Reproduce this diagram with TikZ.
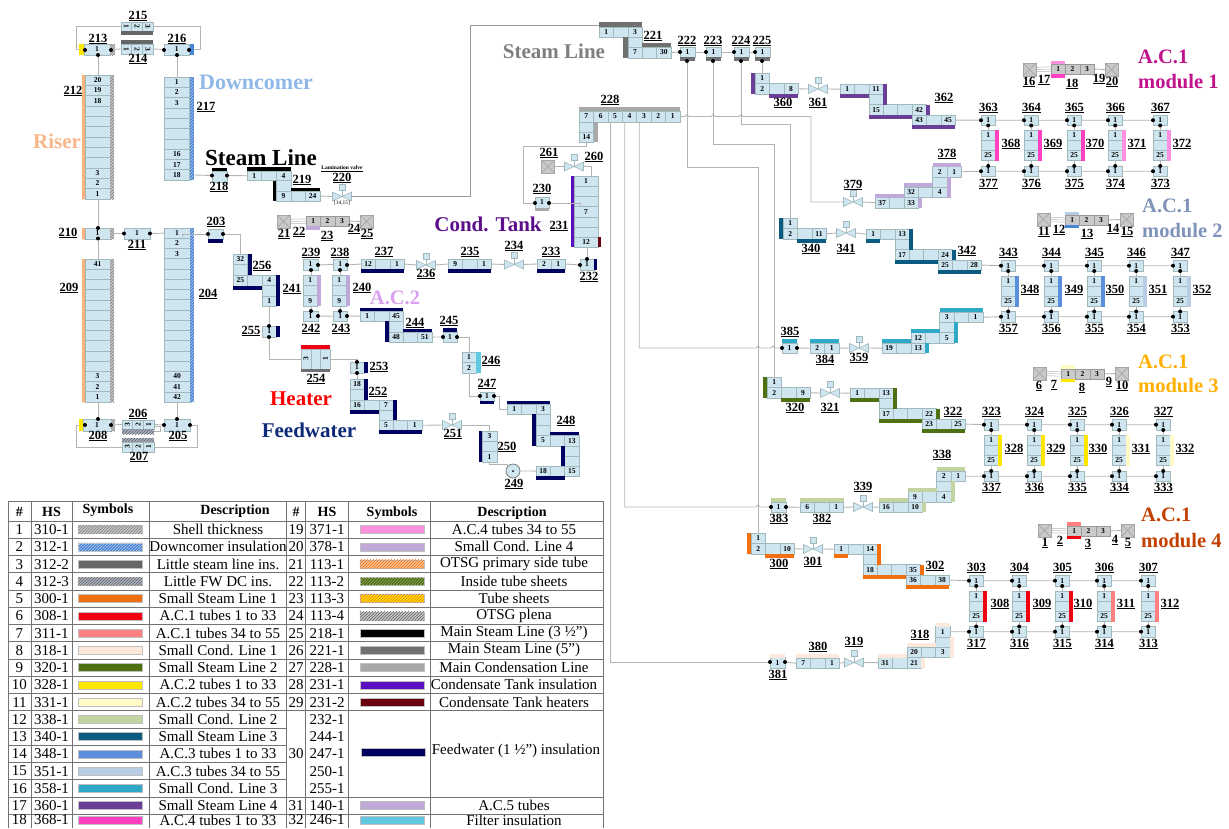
\documentclass[tikz,border=0pt]{standalone}
\usepackage{fontspec}
\setmainfont{Liberation Serif}
\usetikzlibrary{patterns,calc}
\pgfdeclarelayer{bg}
\pgfsetlayers{bg,main}
\definecolor{ccell}{HTML}{CFE6F0}
\definecolor{cedge}{HTML}{9FB9BC}
\definecolor{cgr}{HTML}{C9C9C9}
\definecolor{cline}{HTML}{B4B4B4}
\definecolor{cshell}{HTML}{C4C4C4}
\definecolor{cdc}{HTML}{4A86D8}
\definecolor{clsl}{HTML}{666666}
\definecolor{cfw}{HTML}{A8B0C0}
\definecolor{csl1}{HTML}{F07010}
\definecolor{cred}{HTML}{F00010}
\definecolor{csal}{HTML}{FF8080}
\definecolor{ccl1}{HTML}{FDE9DC}
\definecolor{csl2}{HTML}{4F7010}
\definecolor{cyel}{HTML}{FFE600}
\definecolor{cyell}{HTML}{FFFAC8}
\definecolor{ccl2}{HTML}{C4D4A0}
\definecolor{csl3}{HTML}{0B5A80}
\definecolor{cblue}{HTML}{5B8FDC}
\definecolor{cbluel}{HTML}{B8CCE4}
\definecolor{ccl3}{HTML}{30A8C8}
\definecolor{csl4}{HTML}{6B3E98}
\definecolor{cpink}{HTML}{FF40C0}
\definecolor{cpinkl}{HTML}{FF90E0}
\definecolor{ccl4}{HTML}{C0A8D8}
\definecolor{cotsg}{HTML}{FFC090}
\definecolor{cmsl}{HTML}{707070}
\definecolor{cmcl}{HTML}{A8A8A8}
\definecolor{ctank}{HTML}{5A10C0}
\definecolor{cheat}{HTML}{6A0010}
\definecolor{cnavy}{HTML}{000060}
\definecolor{cfilt}{HTML}{60C8E0}
\definecolor{ttriser}{HTML}{F9B68A}
\definecolor{ttdc}{HTML}{8DB8E8}
\definecolor{ttgray}{HTML}{7F7F7F}
\definecolor{ttcond}{HTML}{5B0F8B}
\definecolor{ttac2}{HTML}{D9A0F0}
\definecolor{ttfw}{HTML}{0E2A78}
\definecolor{ttm1}{HTML}{C0128C}
\definecolor{ttm2}{HTML}{7F93B8}
\definecolor{ttm3}{HTML}{FFB000}
\definecolor{ttm4}{HTML}{C24100}
\newcommand{\cf}{\fontsize{7.5}{8}\selectfont\bfseries}
\tikzset{
 cel/.style={draw=cedge,fill=ccell,line width=.6pt,inner sep=0pt,outer sep=0pt,anchor=north west,font=\cf},
 gcel/.style={cel,fill=cgr,draw=gray!80},
 dotb/.style={circle,fill=black,inner sep=0pt,minimum size=4pt,outer sep=0pt},
 conn/.style={draw=cline,line width=.9pt},
 lb/.style={inner sep=0pt,font=\fontsize{12.5}{13}\selectfont\bfseries},
 tbl/.style={inner sep=0pt,font=\fontsize{15}{15}\selectfont},
 tblh/.style={inner sep=0pt,font=\fontsize{14}{15}\selectfont\bfseries},
 tline/.style={draw=gray!90!black,line width=.8pt},
 vbody/.style={minimum width=19pt,minimum height=9pt,inner sep=0pt,outer sep=0pt},
 stem/.style={draw=cedge,fill=ccell,line width=.6pt,minimum size=6pt,inner sep=0pt},
 xb/.style={draw=gray!70,fill=cgr,line width=.6pt,minimum size=13pt,inner sep=0pt,anchor=north west,outer sep=0pt},
}
\newcommand{\cel}[6]{\node[cel,minimum width=#4pt,minimum height=#5pt] (#1) at (#2,#3) {#6};}
\newcommand{\hrow}[7][cel]{\foreach \tx [count=\ci from 0] in {#7}{\pgfmathsetmacro{\xx}{#3+\ci*#5}\pgfmathtruncatemacro{\ii}{\ci+1}\node[#1,minimum width=#5pt,minimum height=#6pt] (#2\ii) at (\xx,#4) {\tx};}}
\newcommand{\vrow}[6]{\foreach \tx [count=\ci from 0] in {#6}{\pgfmathsetmacro{\yy}{#3+\ci*#5}\pgfmathtruncatemacro{\ii}{\ci+1}\node[cel,minimum width=#4pt,minimum height=#5pt] (#1\ii) at (#2,\yy) {\tx};}}
\newcommand{\lbl}[3]{\node[lb] (L#3) at (#1,#2) {\underline{#3}};}
\newcommand{\ttl}[5]{\node[inner sep=0pt,text=#4,font=\fontsize{#3}{#3}\selectfont\bfseries] (#1) at #2 {#5};}
\newcommand{\dotn}[3]{\node[dotb] (#1) at (#2,#3) {};}
\newcommand{\barr}[5]{\fill[#5] (#1,#2) rectangle (#3,#4);}
\newcommand{\hbarr}[6]{\fill[#5] (#1,#2) rectangle (#3,#4);\fill[pattern=north east lines,pattern color=#6] (#1,#2) rectangle (#3,#4);}
\newcommand{\valve}[3]{\node[vbody] (#1) at (#2,#3) {};
 \filldraw[draw=cedge,fill=ccell,line width=.6pt] (#1.north west) -- (#1.center) -- (#1.south west) -- cycle;
 \filldraw[draw=cedge,fill=ccell,line width=.6pt] (#1.north east) -- (#1.center) -- (#1.south east) -- cycle;
 \node[stem] (#1s) at (#2,#3-9) {};
 \draw[cedge,line width=.6pt] (#1s) -- (#1.center);}
\newcommand{\xbox}[3]{\node[xb] (#1) at (#2,#3) {};
 \draw[gray!75,line width=.5pt] (#1.north west) -- (#1.south east) (#1.north east) -- (#1.south west);}
\newcommand{\rl}[1]{\rotatebox{90}{#1}}
\newcommand{\rr}[1]{\rotatebox{-90}{#1}}
\newcommand{\strip}[6]{\xbox{#1a}{#2}{#3}\hrow[gcel]{#1c}{#4}{#5}{14.4}{10}{1,2,3}\xbox{#1b}{#6}{#3}
 \begin{pgfonlayer}{bg}\foreach \dy in {-2.2,0,2.2}{\draw[draw=cline,line width=.5pt] ([yshift=\dy pt]#1a.east) -- ([yshift=\dy pt]#1c1.west);}\draw[conn] (#1c3.east) -- (#1b.west);\end{pgfonlayer}}
% stair going down-right
\newcommand{\stairA}[8]{\def\cw{14.4}\def\ch{10.3}
 \hrow{#1a}{#2}{#3}{\cw}{\ch}{#6}
 \cel{#1b}{#2+2*\cw}{#3+\ch}{\cw}{\ch}{}
 \hrow{#1c}{#2+2*\cw}{#3+2*\ch}{\cw}{\ch}{#7}
 \hrow{#1d}{#2+5*\cw}{#3+3*\ch}{\cw}{\ch}{#8}
 \barr{#2}{#3+\ch}{#2+#5}{#3+\ch+4}{#4}
 \barr{#2+3*\cw}{#3}{#2+3*\cw+4}{#3+2*\ch}{#4}
 \barr{#2+2*\cw}{#3+3*\ch}{#2+5*\cw}{#3+3*\ch+4}{#4}
 \barr{#2+6*\cw}{#3+2*\ch}{#2+6*\cw+4}{#3+3*\ch}{#4}
 \barr{#2+5*\cw}{#3+4*\ch}{#2+8*\cw}{#3+4*\ch+4}{#4}}
% stair going up-right
\newcommand{\stairB}[8]{\def\cw{14.4}\def\ch{10.3}
 \hrow{#1a}{#2}{#3}{\cw}{\ch}{#6}
 \hrow{#1b}{#2+2*\cw}{#3-\ch}{\cw}{\ch}{#7}
 \cel{#1c}{#2+4*\cw}{#3-2*\ch}{\cw}{\ch}{}
 \hrow{#1d}{#2+4*\cw}{#3-3*\ch}{\cw}{\ch}{#8}
 \barr{#2}{#3-4}{#2+2*\cw}{#3}{#4}
 \barr{#2+3*\cw}{#3}{#2+3*\cw+4}{#3+\ch}{#4}
 \barr{#2+2*\cw}{#3-\ch-4}{#2+4*\cw}{#3-\ch}{#4}
 \barr{#2+5*\cw}{#3-2*\ch}{#2+5*\cw+4}{#3}{#4}
 \barr{#2+4*\cw}{#3-3*\ch-4}{#2+4*\cw+#5*\cw}{#3-3*\ch}{#4}}
% inlet
\newcommand{\lineA}[5]{\def\cw{14.4}
 \cel{#1a}{#2}{#3}{\cw}{10.5}{1}
 \hrow{#1b}{#2}{#3+10.5}{\cw}{10.5}{2,{},#5}
 \barr{#2-4}{#3}{#2}{#3+21}{#4}
 \barr{#2+\cw}{#3+21}{#2+3*\cw}{#3+25}{#4}}
\newcommand{\acmod}[7]{\foreach \ta/\tb/\tc/\xc/\cb/\lx in {#7}{
 \cel{n\ta}{\xc}{#1}{14.5}{10.5}{1}
 \dotn{d\ta l}{\xc}{#1+5.2}
 \dotn{d\ta b}{\xc+7.2}{#1+10.5}
 \vrow{n\tb-}{\xc}{#2}{14.3}{10.2}{1,{},25}
 \barr{\xc+14.3}{#2}{\xc+18}{#2+30.6}{\cb}
 \cel{n\tc}{\xc}{#3}{14.5}{10.5}{1}
 \dotn{d\tc l}{\xc}{#3+5.2}
 \dotn{d\tc t}{\xc+7.2}{#3}
 \lbl{\xc+7.5}{#4}{\ta}
 \lbl{\lx}{#5}{\tb}
 \lbl{\xc+7.5}{#6}{\tc}
 \begin{pgfonlayer}{bg}\draw[conn] (d\ta b) -- (d\ta b |- n\tb-1.north);\draw[conn] (n\tb-3.south -| d\tc t) -- (d\tc t);\end{pgfonlayer}}}
\newcommand{\rowlink}[1]{\begin{pgfonlayer}{bg}\foreach \a/\b in {#1}{\draw[conn] (n\a.east) -- (d\b l);}\end{pgfonlayer}}
\begin{document}
\begin{tikzpicture}[x=1pt,y=-1pt]
\useasboundingbox (0,0) rectangle (1229,828);
% ---- primary side left
\vrow{n212-}{85}{75}{25}{10.33}{20,19,18,{},{},{},{},{},{},3,2,1}
\hbarr{82}{75}{85}{199}{cotsg}{csl1!70}
\hbarr{110}{75}{114}{199}{cshell}{gray}
\lbl{73}{91}{212}
\cel{n213}{84}{44}{26}{11}{1}
\barr{79}{44}{84}{55}{cyel}
\hbarr{110}{44}{115}{55}{cshell}{gray}
\dotn{d213l}{85}{50}\dotn{d213r}{111}{50}\dotn{d213b}{98}{55}
\lbl{98}{39}{213}
\hrow{n215-}{121}{22}{10.7}{9}{\rr{1},\rr{2},\rr{3}}
\barr{121}{31}{153}{35}{clsl}
\lbl{138}{16}{215}
\barr{121}{40}{153}{44}{clsl}
\hrow{n214-}{121}{44}{10.7}{10}{\rr{1},\rr{2},\rr{3}}
\lbl{138}{59}{214}
\cel{n216}{164}{44}{25.5}{11}{1}
\barr{189.5}{44}{194}{55}{cdc}
\dotn{d216l}{164}{50}\dotn{d216r}{189}{50}\dotn{d216b}{177}{55}
\lbl{177}{39}{216}
\vrow{n217-}{164}{77}{25.5}{10.3}{1,2,3,{},{},{},{},16,17,18}
\hbarr{189.5}{77}{193.5}{180}{cdc}{cbluel}
\lbl{206}{107}{217}
\ttl{tdc}{(256,82)}{22}{ttdc}{Downcomer}
\ttl{trs}{(57,141)}{21}{ttriser}{Riser}
\ttl{tsl}{(261,158)}{23}{black}{Steam Line}
\cel{n218}{212}{171}{15}{11}{}
\barr{212}{167.5}{227}{171}{black}
\dotn{d218l}{212}{175.5}\dotn{d218r}{227}{175.5}
\lbl{219}{187}{218}
\hrow{n219a}{247}{171}{14.6}{9.5}{1,{},4}
\cel{n219b}{276.2}{180.5}{14.6}{10.5}{}
\hrow{n219c}{276.2}{191}{14.6}{10}{9,{},24}
\barr{247}{167}{291}{171}{black}
\barr{273}{180.5}{276.2}{201}{black}
\barr{291}{188}{319.8}{191}{black}
\lbl{302}{180}{219}
\valve{v220}{342}{196.5}
\node[inner sep=0pt,font=\fontsize{5.5}{6}\selectfont\bfseries] (lamv) at (342,169) {\underline{Lamination valve}};
\lbl{342}{178}{220}
\node[inner sep=0pt,font=\fontsize{5.5}{6}\selectfont] (t1415) at (342,203.5) {[14,15]};
% 210 / 211 / 209
\cel{n210}{85}{228}{25}{11}{1}
\hbarr{82}{228}{85}{239}{cotsg}{csl1!70}
\hbarr{110}{228}{114}{239}{cshell}{gray}
\dotn{d210t}{98}{228}\dotn{d210b}{98}{238.5}
\lbl{68}{233}{210}
\cel{n211}{124}{228}{26}{11}{1}
\dotn{d211l}{124}{233.5}\dotn{d211r}{150}{233.5}
\lbl{137}{245}{211}
\vrow{n209-}{85}{259}{25}{10.21}{41,{},{},{},{},{},{},{},{},{},{},3,2,1}
\hbarr{82}{259}{85}{402}{cotsg}{csl1!70}
\hbarr{110}{259}{114}{402}{cshell}{gray}
\lbl{69}{288}{209}
\vrow{n204-}{164}{228}{26}{10.24}{1,2,3,{},{},{},{},{},{},{},{},{},{},{},40,41,42}
\hbarr{190}{228}{194}{402}{cdc}{cbluel}
\lbl{208}{294}{204}
\cel{n208}{83}{419}{28}{12}{1}
\barr{79}{419}{83}{431}{cyel}
\hbarr{111}{419}{114.5}{431}{cshell}{gray}
\dotn{d208l}{85}{425}\dotn{d208r}{111}{425}\dotn{d208t}{98}{419}
\lbl{98}{436}{208}
\hrow{n206-}{122}{420}{10.7}{9}{\rl{3},\rl{2},\rl{1}}
\hbarr{122}{429}{154}{434}{cfw}{clsl}
\lbl{138}{414}{206}
\hbarr{122}{438}{154}{442}{cfw}{clsl}
\hrow{n207-}{122}{442}{10.7}{10}{\rl{3},\rl{2},\rl{1}}
\lbl{139}{457}{207}
\cel{n205}{164}{419}{26}{12}{1}
\dotn{d205l}{164}{425}\dotn{d205r}{190}{425}\dotn{d205t}{177}{419}
\lbl{178}{436}{205}
\cel{n203}{208}{229}{15}{10}{}
\barr{208}{239}{223}{243}{cnavy}
\dotn{d203l}{208}{234}\dotn{d203r}{223}{234}
\lbl{216}{222}{203}
\coordinate (k204) at (182,237);
% 21-25
\strip{s23}{277}{215}{306}{216}{360}
\barr{306}{226}{320.4}{230}{ccl4}
\lbl{284}{234}{21}\lbl{299}{232}{22}\lbl{327}{236}{23}\lbl{354}{229}{24}\lbl{367}{234}{25}
% 256, 241
\vrow{n256a}{233}{254}{14.5}{10.5}{32,{}}
\hrow{n256b}{233}{275}{14.5}{11}{25,{}}
\vrow{n241-}{262}{275}{14.3}{10.4}{4,{},1}
\barr{248}{254}{251.5}{275}{cnavy}
\barr{233}{286}{262}{289.5}{cnavy}
\barr{276.3}{275}{279.5}{306}{cnavy}
\lbl{262}{266}{256}\lbl{292}{289}{241}
\cel{n255}{262}{326}{14.3}{11}{1}
\barr{276.3}{326}{279.5}{337}{cnavy}
\dotn{d255t}{269}{326}\dotn{d255b}{269}{337}
\lbl{251}{331}{255}
\hrow{n254-}{301}{349}{9.8}{20}{\rl{3},{},\rl{1}}
\barr{301}{345}{330.4}{349}{cred}
\barr{301}{369}{330.4}{372}{cmsl}
\lbl{316}{379}{254}
\ttl{theat}{(301,399)}{21}{red}{Heater}
\ttl{tfw}{(309,430)}{21}{ttfw}{Feedwater}
\ttl{tac2}{(395,298)}{20.5}{ttac2}{A.C.2}
\ttl{tcond}{(488,224)}{21}{ttcond}{Cond. Tank}
% 238-243
\cel{n239}{303}{259}{15}{11}{1}
\dotn{d239r}{318}{265}\dotn{d239b}{311}{270}
\lbl{311}{253}{239}
\cel{n238}{333}{259}{14.5}{11}{1}
\dotn{d238r}{347}{265}\dotn{d238b}{340}{270}
\lbl{340}{253}{238}
\vrow{t239-}{303}{275}{14.3}{10.3}{1,{},9}
\barr{317.3}{275}{321}{306}{ccl4}
\vrow{t238-}{332}{275}{14.3}{10.3}{1,{},9}
\barr{346.3}{275}{350}{306}{ccl4}
\lbl{362}{288}{240}
\cel{n242}{303}{311}{15}{10.5}{1}
\dotn{d242r}{318}{316}\dotn{d242t}{311}{311}
\lbl{311}{329}{242}
\cel{n243}{333}{311}{14.5}{10.5}{1}
\dotn{d243r}{347}{316}\dotn{d243t}{340}{311}
\lbl{341}{329}{243}
\hrow{n237-}{361}{259}{14.4}{10}{12,{},1}
\barr{361}{269}{404}{273}{cnavy}
\lbl{384}{252}{237}
\valve{v236}{426}{265}
\lbl{426}{274}{236}
\hrow{n235-}{448}{259}{14.4}{10}{9,{},1}
\barr{448}{269}{491}{273}{cnavy}
\lbl{470}{252}{235}
\valve{v234}{514}{264.5}
\lbl{514}{246}{234}
\hrow{n233-}{537}{259}{14.2}{10}{2,1}
\barr{537}{269}{565.4}{273}{cnavy}
\lbl{551}{252}{233}
\cel{n232}{580}{259}{14}{11}{1}
\barr{594}{259}{597}{270}{cnavy}
\dotn{d232l}{580}{265}\dotn{d232t}{587}{259}
\lbl{589}{277}{232}
% 244-253
\hrow{n244a}{360}{311}{14.4}{10.3}{1,{},45}
\cel{n244b}{388.8}{321.3}{14.4}{10.5}{}
\hrow{n244c}{388.8}{331.8}{14.4}{10.5}{48,{},51}
\barr{360}{308}{403.2}{311}{cnavy}
\barr{385}{321.3}{388.8}{342.3}{cnavy}
\barr{403.2}{329}{432}{331.8}{cnavy}
\lbl{415}{323}{244}
\cel{n245}{443}{332}{14}{10.5}{1}
\barr{443}{328}{457}{332}{cnavy}
\dotn{d245l}{443}{337}\dotn{d245r}{457}{337}
\lbl{449}{321}{245}
\vrow{n246-}{462}{352}{14}{10.5}{1,2}
\barr{476}{352}{481}{373}{cfilt}
\lbl{491}{361}{246}
\cel{n247}{480}{392}{14}{9}{1}
\barr{480}{401}{494}{404}{cnavy}
\dotn{d247l}{480}{396}\dotn{d247r}{494}{396}
\lbl{487}{384}{247}
\hrow{n248a}{507}{404}{14.4}{10.3}{1,{},3}
\vrow{n248b}{535.8}{414.3}{14.4}{10.5}{{},{}}
\hrow{n248c}{535.8}{435.3}{14.4}{10.5}{5,{},13}
\vrow{n248d}{564.6}{445.8}{14.4}{10}{{},{}}
\hrow{n248e}{535.8}{465.8}{14.4}{10.5}{18,{},15}
\barr{507}{401}{550.2}{404}{cnavy}
\barr{532}{414.3}{535.8}{445.8}{cnavy}
\barr{550.2}{432}{579}{435.3}{cnavy}
\barr{561}{445.8}{564.6}{465.8}{cnavy}
\barr{535.8}{476.3}{564.6}{479.5}{cnavy}
\lbl{566}{421}{248}
\node[circle,draw=gray!90!black,fill=ccell,line width=.7pt,minimum size=14pt,inner sep=0pt] (p249) at (513,471) {};
\node[dotb,minimum size=2pt] (p249c) at (513,471) {};
\lbl{514}{484}{249}
\vrow{n250-}{482}{431}{15}{10.33}{3,{},1}
\barr{479}{431}{482}{462}{cnavy}
\lbl{507}{447}{250}
\valve{v251}{452}{425}
\lbl{453}{434}{251}
\cel{n252a}{350}{379}{14.3}{10.5}{18}
\cel{n252b}{350}{389.5}{14.3}{10.5}{}
\hrow{n252c}{350}{400}{14.4}{10.3}{16,{},7}
\cel{n252d}{378.8}{410.3}{14.4}{10}{}
\hrow{n252e}{378.8}{420.3}{14.4}{10}{5,{},1}
\barr{364.3}{379}{368}{400}{cnavy}
\barr{350}{410.3}{378.8}{413.5}{cnavy}
\barr{393.2}{400}{396.5}{420.3}{cnavy}
\barr{378.8}{430.3}{422}{433.5}{cnavy}
\lbl{378}{392}{252}
\cel{n253}{350}{362}{14}{11}{1}
\barr{364}{362}{368}{373}{cnavy}
\dotn{d253t}{357}{362}\dotn{d253b}{357}{373}
\lbl{379}{367}{253}
% 221 ... 225
\hrow{n221a}{599}{27}{14.4}{10}{1,{},3}
\cel{n221b}{627.8}{37}{14.4}{10}{}
\hrow{n221c}{627.8}{47}{14.4}{11}{7,{},30}
\barr{599}{22}{642.2}{27}{cmsl}
\barr{623}{37}{627.8}{58}{cmsl}
\barr{642.2}{43}{671}{47}{cmsl}
\lbl{653}{36}{221}
\coordinate (k221) at (599,25);
\ttl{tsl2}{(554,51)}{21}{ttgray}{Steam Line}
\foreach \nm/\xc in {222/680,223/706,224/734,225/755}{
 \cel{n\nm}{\xc}{47}{15}{10}{1}
 \barr{\xc}{57}{\xc+15}{61}{cmsl}
 \dotn{d\nm l}{\xc}{52}\dotn{d\nm b}{\xc+7}{61}
 \lbl{\xc+7}{41}{\nm}}
\hrow{n228-}{579}{111}{14.43}{11}{7,6,5,4,3,2,1}
\vrow{n228v}{579}{122}{14.6}{10}{{},14}
\barr{579}{107}{680}{111}{cmcl}
\barr{593.6}{122}{598}{142}{cmcl}
\lbl{610}{100}{228}
\xbox{x261}{541.5}{160}
\lbl{549}{153}{261}
\valve{v260}{574}{166.5}
\lbl{594}{157}{260}
\cel{n230}{535}{197}{14}{11}{1}
\barr{535}{208}{549}{211}{cmcl}
\dotn{d230l}{535}{203}\dotn{d230r}{549}{203}
\lbl{542}{189}{230}
\vrow{n231-}{574}{176}{24}{10.2}{1,{},{},7,{},{},12}
\barr{571}{176}{574}{247.4}{ctank}
\barr{598}{237}{601}{247.4}{cheat}
\lbl{559}{226}{231}
% module 1
\strip{s18}{1023}{63}{1051}{64}{1105}
\barr{1051}{61}{1065.4}{64}{cpinkl}\barr{1051}{74}{1065.4}{78}{cpink}
\lbl{1029}{82}{16}\lbl{1044}{80}{17}\lbl{1072}{84}{18}\lbl{1099}{79}{19}\lbl{1112}{82}{20}
\node[anchor=west,inner sep=0pt,text=ttm1,font=\fontsize{20.5}{21}\selectfont\bfseries] (m1a) at (1138,57) {A.C.1};
\node[anchor=west,inner sep=0pt,text=ttm1,font=\fontsize{20.5}{21}\selectfont\bfseries] (m1b) at (1138,82) {module 1};
\lineA{n360}{755}{73}{csl4}{8}
\lbl{783}{103}{360}
\valve{v361}{818}{89}
\lbl{818}{103}{361}
\stairA{n362}{840}{84}{csl4}{28.8}{1,{},11}{15,{},{},42}{43,{},45}
\lbl{944}{98}{362}
\stairB{n378}{875}{197.5}{ccl4}{2}{37,{},33}{32,{},4}{2,1}
\lbl{947}{154}{378}
\valve{v379}{853}{202}
\lbl{853}{185}{379}
\acmod{115}{130}{166}{108}{144}{184}{363/368/377/981/cpink/1011,364/369/376/1024/cpink/1053,365/370/375/1067/cpink/1095,366/371/374/1108/cpinkl/1137,367/372/373/1153/cpinkl/1182}
\rowlink{363/364,364/365,365/366,366/367,377/376,376/375,375/374,374/373}
% module 2
\strip{s13}{1037}{213}{1065}{215}{1120}
\barr{1065}{212}{1079.4}{215}{cbluel}\barr{1065}{225}{1079.4}{227.5}{cdc}
\lbl{1044}{232}{11}\lbl{1059}{230}{12}\lbl{1087}{234}{13}\lbl{1113}{229}{14}\lbl{1127}{232}{15}
\node[anchor=west,inner sep=0pt,text=ttm2,font=\fontsize{20.5}{21}\selectfont\bfseries] (m2a) at (1142,206) {A.C.1};
\node[anchor=west,inner sep=0pt,text=ttm2,font=\fontsize{20.5}{21}\selectfont\bfseries] (m2b) at (1142,231) {module 2};
\lineA{n340}{783}{218}{csl3}{11}
\lbl{811}{249}{340}
\valve{v341}{846}{233}
\lbl{846}{249}{341}
\stairA{n342}{866}{229}{csl3}{14.4}{1,{},13}{17,{},{},24}{25,{},28}
\lbl{967}{251}{342}
\acmod{260.5}{276}{311.5}{253}{290}{329}{343/348/357/1001/cblue/1030,344/349/356/1044/cblue/1074,345/350/355/1087/cblue/1115,346/351/354/1129/cbluel/1158,347/352/353/1173/cbluel/1202}
\rowlink{343/344,344/345,345/346,346/347,357/356,356/355,355/354,354/353}
\stairB{n358}{882}{343}{ccl3}{3}{19,{},13}{12,{},5}{3,{},1}
\valve{v359}{859}{348}
\lbl{859}{358}{359}
\hrow{n384-}{810}{343}{14.5}{10.5}{2,1}
\barr{810}{339}{839}{343}{ccl3}
\lbl{825}{360}{384}
\cel{n385}{782}{343}{15}{10.5}{1}
\barr{782}{339}{797}{343}{ccl3}
\dotn{d385l}{782}{348}\dotn{d385r}{797}{348}
\lbl{790}{332}{385}
% module 3
\strip{s8}{1033}{367}{1061}{369}{1115.5}
\barr{1061}{365}{1075.4}{369}{cyell}\barr{1061}{379}{1075.4}{382}{cyel}
\lbl{1039}{386}{6}\lbl{1054}{385}{7}\lbl{1082}{388}{8}\lbl{1109}{382}{9}\lbl{1122}{386}{10}
\node[anchor=west,inner sep=0pt,text=ttm3,font=\fontsize{20.5}{21}\selectfont\bfseries] (m3a) at (1138,362) {A.C.1};
\node[anchor=west,inner sep=0pt,text=ttm3,font=\fontsize{20.5}{21}\selectfont\bfseries] (m3b) at (1138,386) {module 3};
\lineA{n320}{767}{377}{csl2}{9}
\lbl{795}{408}{320}
\valve{v321}{830}{393}
\lbl{830}{408}{321}
\stairA{n322}{850}{388}{csl2}{28.8}{1,{},13}{17,{},{},22}{23,{},25}
\lbl{953}{412}{322}
\acmod{419.5}{435}{471}{412}{449}{488}{323/328/337/984/cyel/1014,324/329/336/1027/cyel/1056,325/330/335/1070/cyel/1098,326/331/334/1112/cyell/1141,327/332/333/1156/cyell/1185}
\rowlink{323/324,324/325,325/326,326/327,337/336,336/335,335/334,334/333}
\stairB{n338}{879}{502}{ccl2}{2}{16,{},10}{9,{},4}{2,1}
\lbl{942}{455}{338}
\valve{v339}{863}{507}
\lbl{863}{487}{339}
\hrow{n382-}{800}{502}{14.5}{10.5}{6,{},1}
\barr{800}{498}{843.5}{502}{ccl2}
\lbl{822}{519}{382}
\cel{n383}{771}{502}{15}{10.5}{1}
\barr{771}{498}{786}{502}{ccl2}
\dotn{d383l}{771}{507}\dotn{d383r}{786}{507}
\lbl{779}{519}{383}
% module 4
\strip{s3}{1038}{524}{1067}{526}{1121}
\barr{1067}{522}{1081.4}{526}{csal}\barr{1067}{536}{1081.4}{539}{cred}
\lbl{1045}{543}{1}\lbl{1060}{541}{2}\lbl{1088}{544}{3}\lbl{1115}{540}{4}\lbl{1128}{543}{5}
\node[anchor=west,inner sep=0pt,text=ttm4,font=\fontsize{20.5}{21}\selectfont\bfseries] (m4a) at (1141,515) {A.C.1};
\node[anchor=west,inner sep=0pt,text=ttm4,font=\fontsize{20.5}{21}\selectfont\bfseries] (m4b) at (1141,541) {module 4};
\lineA{n300}{751}{533}{csl1}{10}
\lbl{779}{564}{300}
\valve{v301}{813}{549}
\lbl{813}{562}{301}
\stairA{n302}{834}{544}{csl1}{14.4}{1,{},14}{18,{},{},35}{36,{},38}
\lbl{935}{566}{302}
\acmod{575.5}{591}{626.5}{568}{604}{644}{303/308/317/969/cred/1000,304/309/316/1012/cred/1042,305/310/315/1055/cred/1083,306/311/314/1097/csal/1126,307/312/313/1141/csal/1170}
\rowlink{303/304,304/305,305/306,306/307,317/316,316/315,315/314,314/313}
\stairB{n318}{878}{657.5}{ccl1}{1}{31,{},21}{20,{},3}{1}
\lbl{920}{635}{318}
\valve{v319}{854}{662.5}
\lbl{854}{642}{319}
\hrow{n380-}{796}{658}{14.4}{10.5}{7,{},1}
\barr{796}{654}{839.2}{658}{ccl1}
\lbl{818}{647}{380}
\cel{n381}{770}{657.5}{15}{10.5}{1}
\barr{770}{653.5}{785}{657.5}{ccl1}
\dotn{d381l}{770}{662}\dotn{d381r}{785}{662}
\lbl{778}{675}{381}
% ---- connectors
\begin{pgfonlayer}{bg}
\draw[conn] (n213.west) -- ++(-8,0) |- (n215-1.west);
\draw[conn] (n215-3.east) -- ++(47,0) |- (n216.east);
\draw[conn] (n213.east) -- (n214-1.west);
\draw[conn] (n214-3.east) -- (n216.west);
\draw[conn] (d213b) -- (d213b |- n212-1.north);
\draw[conn] (d216b) -- (d216b |- n217-1.north);
\draw[conn] (n217-10.east) -- (d218l);
\draw[conn] (d218r) -- (n219a1.west);
\draw[conn] (n219c3.east) -- (v220.west);
\draw[draw=gray!80,line width=.7pt] (v220.east) -- ++(119,0) |- (k221);
\draw[conn] (n212-12.south -| d210t) -- (d210t);
\draw[conn] (d210b) -- (d210b |- n209-1.north);
\draw[conn] (n210.east) -- (d211l);
\draw[conn] (d211r) -- (n204-1.west);
\draw[conn] (d208t) -- (d208t |- n209-14.south);
\draw[conn] (d205t) -- (d205t |- n204-17.south);
\draw[conn] (n208.west) -- ++(-7,0) |- (n207-1.west);
\draw[conn] (n207-3.east) -- ++(43,0) |- (n205.east);
\draw[conn] (n208.east) -- (n206-1.west);
\draw[conn] (n206-3.east) -- (n205.west);
\draw[draw=cline,line width=.6pt] ([yshift=-2pt]n206-3.east) -- ++(6,0) -- ++(0,5) -- ++(-6,0);
\draw[conn] (d203r) -- ++(17,0) -- ++(0,20);
\draw[conn] (n241-3.south -| d255t) -- (d255t);
\draw[conn] (d255b) |- (n254-1.west);
\draw[conn] (n254-3.east) -| (d253t);
\draw[conn] (d253b) -- (d253b |- n252a.north);
\draw[conn] (d239r) -- (n238.west);
\draw[conn] (d238r) -- (n237-1.west);
\draw[conn] (d239b) -- (d239b |- t239-1.north);
\draw[conn] (d238b) -- (d238b |- t238-1.north);
\draw[conn] (t239-3.south -| d242t) -- (d242t);
\draw[conn] (t238-3.south -| d243t) -- (d243t);
\draw[conn] (d242r) -- (n243.west);
\draw[conn] (d243r) -- (n244a1.west);
\draw[conn] (n237-3.east) -- (v236.west);
\draw[conn] (v236.east) -- (n235-1.west);
\draw[conn] (n235-3.east) -- (v234.west);
\draw[conn] (v234.east) -- (n233-1.west);
\draw[conn] (n233-2.east) -- (d232l);
\draw[conn] (n231-7.south -| d232t) -- (d232t);
\draw[conn] (n244c3.east) -- (d245l);
\draw[conn] (d245r) -| (n246-1.north);
\draw[conn] (n246-2.south) |- (d247l);
\draw[conn] (d247r) -- ++(5,0) |- (n248a1.west);
\draw[conn] (n248e1.west) -- (p249.east);
\draw[conn] (n250-3.south) -- ++(0,2) -| (p249.north west);
\draw[conn] (v251.east) -| (n250-1.north);
\draw[conn] (n252e3.east) -- (v251.west);
\draw[conn] (n221c3.east) -- (d222l);
\draw[conn] (n222.east) -- (d223l);
\draw[conn] (n223.east) -- (d224l);
\draw[conn] (n224.east) -- (d225l);
\draw[conn] (d225b) -- (d225b |- n360a.north);
\draw[conn] (d222b) -- (687,167) -| (n300a.north);
\draw[conn] (d223b) -- (713,144) -| (n320a.north);
\draw[conn] (d224b) -- (741,124) -| (n340a.north);
\draw[conn] (n228-7.east) -- (685,116.5) -- (687,114.5) -- (689,116.5) -- (711,116.5) -- (713,114.5) -- (715,116.5) -- (739,116.5) -- (741,114.5) -- (743,116.5) -- (811,116.5) |- (v379.west);
\draw[conn] (v379.east) -- (n378a1.west);
\draw[conn] (n378d2.east) -- (d377l);
\draw[conn] (n360b3.east) -- (v361.west);
\draw[conn] (v361.east) -- (n362a1.west);
\draw[conn] (n362d3.east) -- (d363l);
\draw[conn] (n340b3.east) -- (v341.west);
\draw[conn] (v341.east) -- (n342a1.west);
\draw[conn] (n342d3.east) -- (d343l);
\draw[conn] (d385r) -- (n384-1.west);
\draw[conn] (n384-2.east) -- (v359.west);
\draw[conn] (v359.east) -- (n358a1.west);
\draw[conn] (n358d3.east) -- (d357l);
\draw[conn] (n320b3.east) -- (v321.west);
\draw[conn] (v321.east) -- (n322a1.west);
\draw[conn] (n322d3.east) -- (d323l);
\draw[conn] (d383r) -- (n382-1.west);
\draw[conn] (n382-3.east) -- (v339.west);
\draw[conn] (v339.east) -- (n338a1.west);
\draw[conn] (n338d2.east) -- (d337l);
\draw[conn] (n300b3.east) -- (v301.west);
\draw[conn] (v301.east) -- (n302a1.west);
\draw[conn] (n302d3.east) -- (d303l);
\draw[conn] (d381r) -- (n380-1.west);
\draw[conn] (n380-3.east) -- (v319.west);
\draw[conn] (v319.east) -- (n318a1.west);
\draw[conn] (n318d1.east) -- (d317l);
\draw[conn] (x261.east) -- (v260.west);
\draw[conn] (v260.east) -| ([xshift=5pt]n231-1.north);
\draw[conn] (n228v2.south) -- ++(0,4) -- ++(-62.5,0) |- (d230l);
\draw[conn] ([xshift=2.5pt]n228-3.south west) |- (d381l);
\draw[conn] ([xshift=2.5pt]n228-4.south west) |- (756,507) -- (758,505) -- (760,507) -- (d383l);
\draw[conn] ([xshift=2.5pt]n228-5.south west) |- (756,348) -- (758,346) -- (760,348) -- (771,348) -- (773,346) -- (775,348) -- (d385l);
\end{pgfonlayer}
\draw[draw=cline,line width=.7pt] (k204) |- (d203l);
\coordinate (k231) at (580,207);
\draw[draw=cline,line width=.7pt] (d230r) -| (k231);
% ---- table
\foreach \k in {0,...,18}{\pgfmathsetmacro{\yy}{521+\k*17.25}\coordinate (hl\k) at (8,\yy);\draw[tline] (hl\k) -- ++(278,0);}
\foreach \k in {0,...,11,16,17,18}{\pgfmathsetmacro{\yy}{521+\k*17.25}\coordinate (hr\k) at (286,\yy);\draw[tline] (hr\k) -- ++(317,0);}
\coordinate (ht) at (8,501);\draw[tline] (ht) -- ++(595,0);
\foreach \vx in {8,31,72,149,286,305,348,430,603}{\coordinate (vt) at (\vx,501);\draw[tline] (vt) -- ++(0,327);}
\node[tblh] (h1) at (19.5,512) {\#};
\node[tblh] (h2) at (51.5,512) {HS};
\node[tblh] (h3) at (108,510) {Symbols};
\node[tblh] (h4) at (235,511) {Description};
\node[tblh] (h5) at (296,512) {\#};
\node[tblh] (h6) at (327,512) {HS};
\node[tblh] (h7) at (392,513) {Symbols};
\node[tblh] (h8) at (512,513) {Description};
\foreach \n/\hs/\cc/\dd [count=\k from 0] in {1/310-1/cshell/Shell thickness,2/312-1/cdc/Downcomer insulation,3/312-2/clsl/Little steam line ins.,4/312-3/cfw/Little FW DC ins.,5/300-1/csl1/Small Steam Line 1,6/308-1/cred/A.C.1 tubes 1 to 33,7/311-1/csal/A.C.1 tubes 34 to 55,8/318-1/ccl1/Small Cond. Line 1,9/320-1/csl2/Small Steam Line 2,10/328-1/cyel/A.C.2 tubes 1 to 33,11/331-1/cyell/A.C.2 tubes 34 to 55,12/338-1/ccl2/Small Cond. Line 2,13/340-1/csl3/Small Steam Line 3,14/348-1/cblue/A.C.3 tubes 1 to 33,15/351-1/cbluel/A.C.3 tubes 34 to 55,16/358-1/ccl3/Small Cond. Line 3,17/360-1/csl4/Small Steam Line 4,18/368-1/cpink/A.C.4 tubes 1 to 33}{
 \pgfmathsetmacro{\yy}{521+\k*17.25+8.6-(\k==17)*2.8}
 \node[tbl] (ln\n) at (19.5,\yy) {\n};
 \node[tbl] (lh\n) at (51.5,\yy) {\hs};
 \node[draw=gray!50,fill=\cc,minimum width=64pt,minimum height=8pt,inner sep=0pt,line width=.4pt] (ls\n) at (110,\yy) {};
 \node[tbl] (ld\n) at (218,\yy) {\dd};
}
\foreach \n/\hs/\cc/\dd/\kk in {19/371-1/cpinkl/A.C.4 tubes 34 to 55/0,20/378-1/ccl4/Small Cond. Line 4/1,21/113-1/cotsg/OTSG primary side tube/2,22/113-2/csl2/Inside tube sheets/3,23/113-3/cyel/Tube sheets/4,24/113-4/cshell/OTSG plena/5,25/218-1/black/Main Steam Line (3 ½”)/6,26/221-1/cmsl/Main Steam Line (5")/7,27/228-1/cmcl/Main Condensation Line/8,28/231-1/ctank/Condensate Tank insulation/9,29/231-2/cheat/Condensate Tank heaters/10,31/140-1/ccl4/A.C.5 tubes/16,32/246-1/cfilt/Filter insulation/17}{
 \pgfmathsetmacro{\yy}{521+\kk*17.25+8.6-(\kk==17)*2.8}
 \node[tbl] (ln\n) at (296,\yy) {\n};
 \node[tbl] (lh\n) at (327,\yy) {\hs};
 \node[draw=gray!50,fill=\cc,minimum width=64pt,minimum height=8pt,inner sep=0pt,line width=.4pt] (ls\n) at (392,\yy) {};
 \node[tbl] (ld\n) at (514,\yy) {\dd};
}
\foreach \n/\pc in {1/gray,2/cbluel,4/clsl,21/csl1,22/csl2!60,23/csl1,24/clsl}{\fill[pattern=north east lines,pattern color=\pc] (ls\n.south west) rectangle (ls\n.north east);}
\node[tbl] (ln30) at (296,754) {30};
\foreach \hs [count=\k from 0] in {232-1,244-1,247-1,250-1,255-1}{\pgfmathsetmacro{\yy}{719.5+\k*17.25}\node[tbl] (lh30\k) at (327,\yy) {\hs};}
\node[draw=gray!50,fill=cnavy,minimum width=64pt,minimum height=8pt,inner sep=0pt,line width=.4pt] (ls30) at (393,752) {};
\node[tbl] (ld30) at (516,751) {Feedwater (1 ½”) insulation};
\end{tikzpicture}
\end{document}
